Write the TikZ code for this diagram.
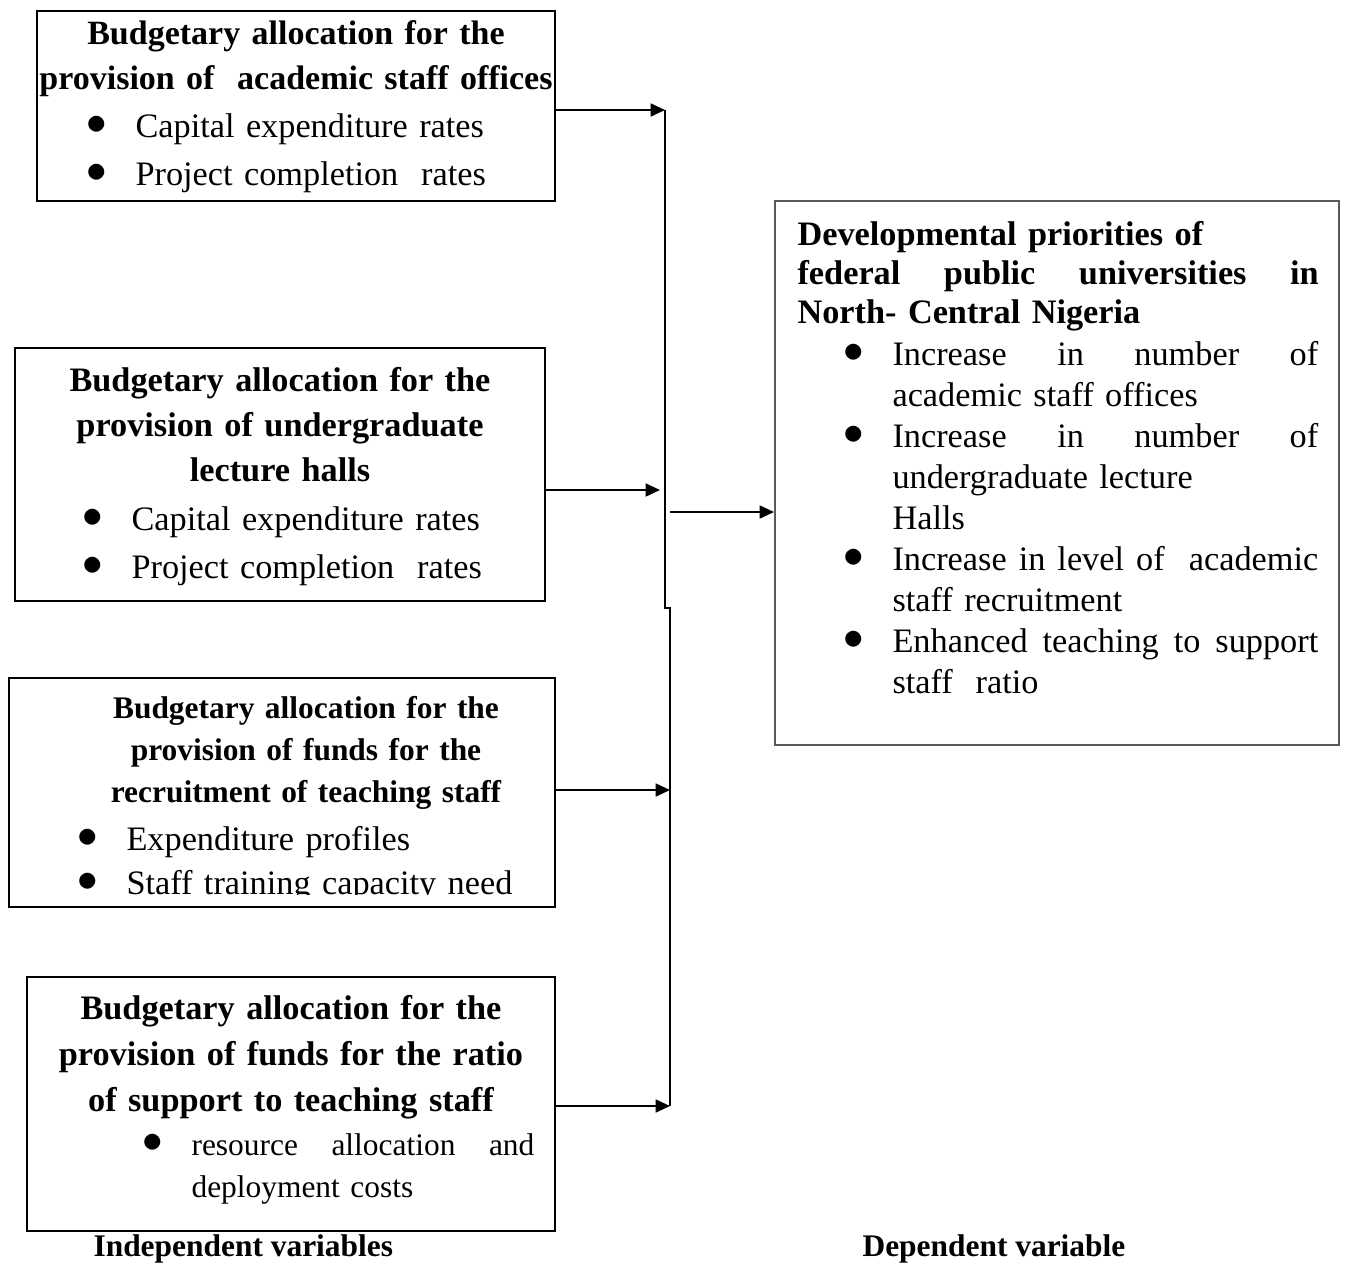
\documentclass[tikz,border=0pt]{standalone}
\usepackage{fontspec}
\setmainfont{Liberation Serif}
\usetikzlibrary{arrows.meta, fit}

\newlength{\bulw}
\setlength{\bulw}{17pt}
\newcommand{\bul}{\makebox[\bulw][l]{\smash{\raisebox{0.8pt}{\fontsize{14}{14}\selectfont$\bullet$}}}}

\begin{document}
\begin{tikzpicture}[x=0.35pt, y=-0.35pt,
    box/.style={draw, line width=0.7pt, inner sep=0pt},
    head/.style={anchor=base, text width=200pt, align=center, inner sep=0pt, font=\bfseries\fontsize{12}{15.8}\selectfont},
    item/.style={anchor=base west, text width=185pt, align=left, inner sep=0pt, font=\fontsize{12}{16.8}\selectfont},
    link/.style={line width=0.7pt, -{Triangle[length=5pt, width=4.5pt]}}]
    \useasboundingbox (0,0) rectangle (1346,1262);

    \node[box, fit={(37,11) (555,201)}] (staffbox) {};
    \node[head, font=\bfseries\fontsize{11.9}{15.8}\selectfont] (staffhead) at (296,44) {Budgetary allocation for the\\provision of~ academic staff offices};
    \node[item] (staff1) at (86.4,137) {\bul Capital expenditure rates};
    \node[item] (staff2) at (86.4,185) {\bul Project completion~ rates};

    \node[box, fit={(15,348) (545,601)}] (hallbox) {};
    \node[head] (hallhead) at (280,391) {Budgetary allocation for the\\provision of undergraduate\\lecture halls};
    \node[item] (hall1) at (82.4,530) {\bul Capital expenditure rates};
    \node[item] (hall2) at (82.4,578) {\bul Project completion~ rates};

    \node[box, fit={(9,678) (555,907)}] (recrbox) {};
    \node[head, font=\bfseries\fontsize{11}{14.7}\selectfont] (recrhead) at (306,718) {Budgetary allocation for the\\provision of funds for the\\recruitment of teaching staff};
    \node[item] (recr1) at (77.4,850) {\bul Expenditure profiles};
    \begin{scope}
        \clip (9,678) rectangle (555,894.5);
        \node[item] (recr2) at (77.4,894) {\bul Staff training capacity need};
    \end{scope}

    \node[box, fit={(27,977) (555,1231)}] (ratiobox) {};
    \node[head, font=\bfseries\fontsize{12}{16.1}\selectfont] (ratiohead) at (291,1019) {Budgetary allocation for the\\provision of funds for the ratio\\of support to teaching staff};
    \node[item, font=\fontsize{11}{15}\selectfont] (ratio1) at (142.4,1155) {\bul\makebox[120pt][s]{resource\hfill allocation\hfill and}\\\hspace*{\bulw}deployment costs};

    \node[box, draw=gray!70!black, fit={(775,201) (1339,745)}] (dep) {};
    \node[head, anchor=base west, align=left, text width=190pt, font=\bfseries\fontsize{12}{13.8}\selectfont] (dephead) at (797,245) {Developmental priorities of\\\makebox[182.4pt][s]{federal\hfill public\hfill universities\hfill in}\\North- Central Nigeria};
    \node[item, font=\fontsize{12}{14.35}\selectfont] (dep1) at (843.4,365) {\bul\makebox[149pt][s]{Increase\hfill in\hfill number\hfill of}\\\hspace*{\bulw}academic staff offices};
    \node[item, font=\fontsize{12}{14.35}\selectfont] (dep2) at (843.4,447) {\bul\makebox[149pt][s]{Increase\hfill in\hfill number\hfill of}\\\hspace*{\bulw}undergraduate lecture\\\hspace*{\bulw}Halls};
    \node[item, font=\fontsize{12}{14.35}\selectfont] (dep3) at (843.4,570) {\bul\makebox[149pt][s]{Increase\hfill in\hfill level\hfill of\hfill\hfill academic}\\\hspace*{\bulw}staff recruitment};
    \node[item, font=\fontsize{12}{14.35}\selectfont] (dep4) at (843.4,652) {\bul\makebox[149pt][s]{Enhanced\hfill teaching\hfill to\hfill support}\\\hspace*{\bulw}staff~ ratio};

    \node[anchor=base west, inner sep=0pt, font=\bfseries\fontsize{11}{13}\selectfont] (indlabel) at (93,1256) {Independent variables};
    \node[anchor=base west, inner sep=0pt, font=\bfseries\fontsize{11}{13}\selectfont] (deplabel) at (862,1256) {Dependent variable};

    \coordinate (in1) at (665,110);
    \coordinate (in2) at (660,490);
    \coordinate (in3) at (670,790);
    \coordinate (in4) at (670,1106);
    \coordinate (bend1) at (665,608);
    \coordinate (bend2) at (670,608);
    \coordinate (out) at (670,512);

    \draw[link] (staffbox.east |- in1) -- (in1);
    \draw[link] (hallbox.east |- in2) -- (in2);
    \draw[link] (recrbox.east |- in3) -- (in3);
    \draw[link] (ratiobox.east |- in4) -- (in4);
    \draw[line width=0.7pt] (in1) -- (bend1) -- (bend2) -- (in4);
    \draw[link] (out) -- (out -| dep.west);
\end{tikzpicture}
\end{document}
